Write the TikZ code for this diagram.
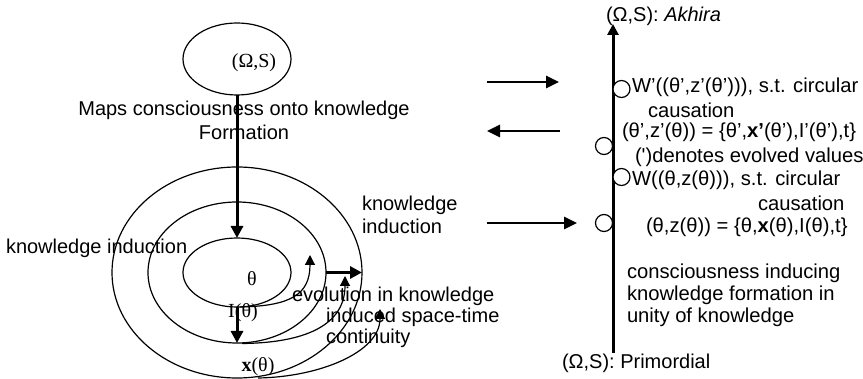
\documentclass[tikz,border=0pt]{standalone}
\usepackage{fontspec}
\setmainfont{Liberation Sans}
\newfontfamily\seriffont{Liberation Serif}
\usetikzlibrary{shapes.geometric,arrows.meta}

\begin{document}
\begin{tikzpicture}[x=0.5pt,y=-0.5pt,
  every node/.style={inner sep=0pt, outer sep=0pt, font=\fontsize{10}{11.5}\selectfont},
  sidetext/.style={anchor=west, font=\fontsize{10.1}{11.5}\selectfont},
  ring/.style={draw, ellipse, line width=0.6pt},
  bigarrow/.style={line width=1.5pt, -{Triangle[length=6pt,width=6pt]}},
  sidearrow/.style={line width=1.3pt, -{Triangle[length=6.5pt,width=6pt]}},
  axisarrow/.style={line width=1.5pt, -{Triangle[length=5.5pt,width=5.5pt]}},
  thinarrow/.style={line width=0.6pt, -{Triangle[length=5pt,width=5pt]}},
  stagecircle/.style={draw, circle, line width=0.6pt, fill=white, minimum size=8.5pt},
  sym/.style={font=\fontsize{10}{12}\selectfont\seriffont},
]
\useasboundingbox (0,0) rectangle (863,379);

% ---- nested knowledge rings ----
\node[ring, minimum width=54pt, minimum height=36pt] (top) at (237,59) {};
\node[ring, minimum width=125pt, minimum height=105.5pt] (outer) at (237,272.5) {};
\node[ring, minimum width=89pt, minimum height=70.5pt] (middle) at (237,272.5) {};
\node[ring, minimum width=54pt, minimum height=34.5pt] (inner) at (237,272.5) {};

\node[sym] (omegaTop) at (254,63) {(Ω,S)};
\node[align=center, font=\fontsize{10}{12}\selectfont] (maps) at (244,120)
  {Maps consciousness onto knowledge\\Formation};

\draw[bigarrow] (top.south) -- (inner.north);
\draw[bigarrow] (inner.south) -- (middle.south);
\draw[bigarrow] (middle.east) -- (outer.east);

\node[sym] (theta) at (252,279) {θ};
\node[sym] (Ilab) at (243,313) {I(θ)};
\node[sym] (xlab) at (258,367) {\textbf{x}(θ)};

\node[anchor=west] (kiLeft) at (6,248) {knowledge induction};
\node[anchor=west, align=left] (kiRight) at (362,214.5) {knowledge\\induction};

\node[anchor=west] (evo1) at (292,296) {evolution in knowledge};
\node[anchor=west] (evo2) at (326,317) {induced space-time};
\node[anchor=west] (evo3) at (326,338) {continuity};

% evolution arrows leaving each ring
\coordinate (e1s) at (240,307);
\coordinate (e1e) at (310,255);
\coordinate (e2s) at (242,343.5);
\coordinate (e2e) at (345,276);
\coordinate (e3s) at (258,378);
\coordinate (e3e) at (380,309);
\draw[thinarrow] (e1s) .. controls (290,306) and (310,295) .. (e1e);
\draw[thinarrow] (e2s) .. controls (295,343) and (345,330) .. (e2e);
\draw[thinarrow] (e3s) .. controls (320,377) and (380,352) .. (e3e);

% ---- flows between the rings and the axis ----
\coordinate (f1s) at (487,82);
\coordinate (f1e) at (559,82);
\coordinate (f2s) at (560,131);
\coordinate (f2e) at (487,131);
\coordinate (f3s) at (487,223);
\coordinate (f3e) at (577,223);
\draw[sidearrow] (f1s) -- (f1e);
\draw[sidearrow] (f2s) -- (f2e);
\draw[sidearrow] (f3s) -- (f3e);

% ---- axis from Primordial to Akhira ----
\coordinate (axisBottom) at (613,353);
\coordinate (axisTop) at (613,24);
\draw[axisarrow] (axisBottom) -- (axisTop);

\node[stagecircle] (s1) at (621.5,89) {};
\node[stagecircle] (s2) at (604,146) {};
\node[stagecircle] (s3) at (621.5,177) {};
\node[stagecircle] (s4) at (604,223) {};

\node[anchor=west] (akhira) at (606,16) {(Ω,S): \textit{Akhira}};
\node[anchor=west] (primordial) at (562,363) {(Ω,S): Primordial};

\node[sidetext] (w1) at (632,87) {W’((θ’,z’(θ’))), s.t. circular};
\node[sidetext] (caus1) at (648,110) {causation};
\node[sidetext] (z1) at (622,132) {(θ’,z’(θ)) = \{θ’,\textbf{x’}(θ’),I’(θ’),t\}};
\node[sidetext] (note) at (635,157) {(\textquotesingle)denotes evolved values};
\node[sidetext] (w0) at (632,180) {W((θ,z(θ))), s.t. circular};
\node[sidetext] (caus0) at (758,203) {causation};
\node[sidetext] (z0) at (646,227) {(θ,z(θ)) = \{θ,\textbf{x}(θ),I(θ),t\}};
\node[anchor=west, align=left, font=\fontsize{10.1}{11}\selectfont] (cons) at (627,295)
  {consciousness inducing\\knowledge formation in\\unity of knowledge};
\end{tikzpicture}
\end{document}
